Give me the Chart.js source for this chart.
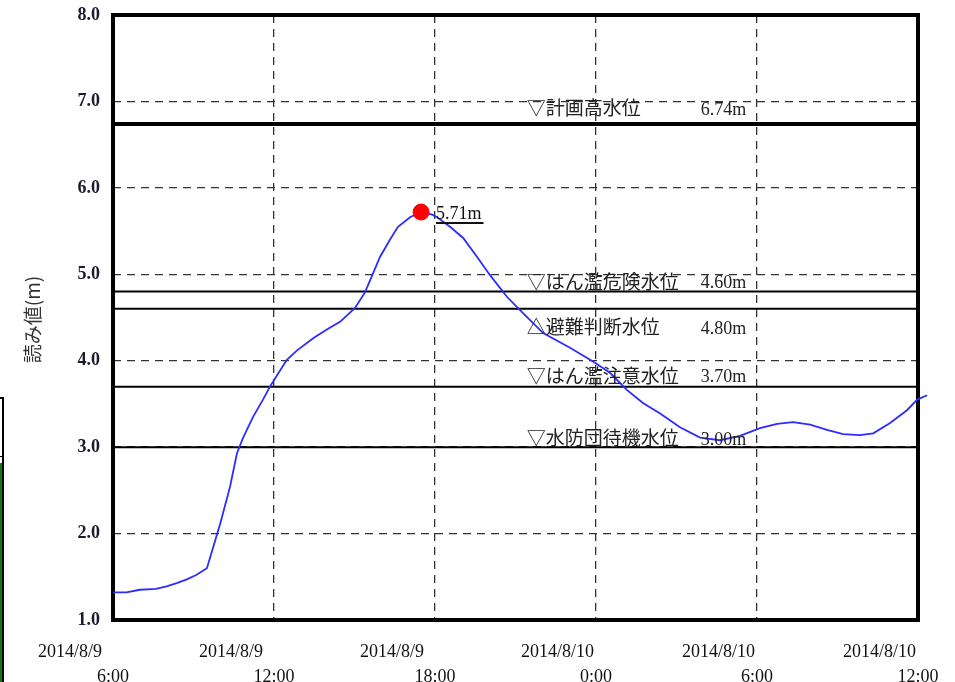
<!DOCTYPE html>
<html lang="ja">
<head>
<meta charset="utf-8">
<title>読み値</title>
<script src="https://cdn.jsdelivr.net/npm/chart.js@4.4.1/dist/chart.umd.min.js"></script>
<style>
  html, body { margin: 0; padding: 0; background: #fff; overflow: hidden; }
  #wrap { position: relative; width: 955px; height: 682px; }
  #c { position: absolute; left: 0; top: 0; }
  /* bit of the neighbouring panel that shows at the left edge */
  #side { position: absolute; left: -2px; top: 397px; width: 4px; height: 285px;
          border-top: 2px solid #000; border-right: 2px solid #000; }
  #side .sep { position: absolute; left: 0; right: 0; top: 57px; height: 1px; background: #000; }
  #side .fill { position: absolute; left: 0; right: 0; top: 64px; bottom: 0; background: #0b7d12; }
</style>
</head>
<body>
<div id="wrap">
  <canvas id="c" width="955" height="682"></canvas>
  <div id="side"><div class="sep"></div><div class="fill"></div></div>
</div>
<script>
// water level readings, hours after 2014/8/9 6:00
const hours = [0, 0.5, 1.0, 1.6, 2.0, 2.4, 2.75, 3.1, 3.5, 3.73, 4.0, 4.36, 4.62, 4.85, 5.22, 5.59, 5.85,
  6.15, 6.48, 6.86, 7.46, 7.97, 8.46, 9.02, 9.39, 9.69, 9.95, 10.32, 10.62, 11.07, 11.48, 11.89,
  12.08, 12.56, 13.05, 13.57, 14.05, 14.68, 15.28, 16.03, 17.03, 17.89, 18.52, 19.16, 19.75, 20.39,
  21.13, 21.88, 22.62, 23.37, 24.11, 24.75, 25.34, 25.98, 26.61, 27.21, 27.84, 28.33, 28.96, 29.6,
  29.97, 30.34];
const levels = [1.32, 1.32, 1.35, 1.36, 1.39, 1.43, 1.47, 1.52, 1.60, 1.84, 2.12, 2.54, 2.93, 3.11, 3.35, 3.55, 3.70,
  3.85, 4.01, 4.12, 4.26, 4.36, 4.45, 4.61, 4.79, 5.01, 5.20, 5.40, 5.55, 5.66, 5.72, 5.69,
  5.66, 5.55, 5.42, 5.20, 4.99, 4.74, 4.55, 4.32, 4.15, 3.99, 3.86, 3.66, 3.51, 3.39,
  3.23, 3.11, 3.08, 3.13, 3.22, 3.27, 3.29, 3.26, 3.20, 3.15, 3.14, 3.16, 3.28, 3.43,
  3.55, 3.60];

// peak marker
const peakHour = 11.48;
const peakValue = 5.72;
const peakText = "5.71m";

// reference water levels (solid lines) and their captions
const refLines = [6.74, 4.80, 4.60, 3.70, 3.00];
const refNames = ["▽計画高水位", "▽はん濫危険水位", "△避難判断水位", "▽はん濫注意水位", "▽水防団待機水位"];
const refValues = ["6.74m", "4.60m", "4.80m", "3.70m", "3.00m"];

// axes
const tickHours = [0, 6, 12, 18, 24, 30];
const tickDates = ["2014/8/9", "2014/8/9", "2014/8/9", "2014/8/10", "2014/8/10", "2014/8/10"];
const tickTimes = ["6:00", "12:00", "18:00", "0:00", "6:00", "12:00"];
const yTicks = ["1.0", "2.0", "3.0", "4.0", "5.0", "6.0", "7.0", "8.0"];
const yTitle = "読み値(m)";

const SERIF = "'Liberation Serif', 'DejaVu Serif', serif";
const JP = "'Noto Sans CJK JP', 'Noto Sans', sans-serif";

// caption placement (pixel offsets from the line each caption belongs to)
const capOffsetY = [-16, -10, 18, -11, -9];
const capNameHour = 15.42;
const capValueHour = 21.9;

const frameAndText = {
  id: "frameAndText",
  beforeDatasetsDraw(chart) {
    const { ctx, chartArea: a } = chart;
    ctx.save();
    ctx.lineWidth = 4;
    ctx.strokeStyle = "#000";
    ctx.strokeRect(a.left, a.top, a.right - a.left, a.bottom - a.top);
    ctx.restore();
  },
  afterDraw(chart) {
    const { ctx, chartArea: a } = chart;
    const x = chart.scales.x, y = chart.scales.y;
    ctx.save();

    // x labels: date line left of the tick, time line centred
    ctx.fillStyle = "#111";
    ctx.font = "18px " + SERIF;
    ctx.textBaseline = "alphabetic";
    tickHours.forEach((h, i) => {
      const px = x.getPixelForValue(h);
      ctx.textAlign = "left";
      ctx.fillText(tickDates[i], px - 75, a.bottom + 37);
      ctx.textAlign = "center";
      ctx.fillText(tickTimes[i], px, a.bottom + 62);
    });

    // y title
    ctx.save();
    ctx.translate(33, (a.top + a.bottom) / 2 + 2);
    ctx.rotate(-Math.PI / 2);
    ctx.textAlign = "center";
    ctx.textBaseline = "middle";
    ctx.font = "19px " + JP;
    ctx.fillStyle = "#333";
    ctx.fillText(yTitle, 0, 0);
    ctx.restore();

    // captions of the reference levels
    ctx.textBaseline = "middle";
    ctx.textAlign = "left";
    ctx.fillStyle = "#222";
    refLines.forEach((v, i) => {
      const py = y.getPixelForValue(v) + capOffsetY[i];
      ctx.font = "19px " + JP;
      ctx.fillText(refNames[i], x.getPixelForValue(capNameHour), py);
      ctx.font = "18px " + SERIF;
      ctx.fillText(refValues[i], x.getPixelForValue(capValueHour), py + 2);
    });

    // peak value with underline
    const px = x.getPixelForValue(peakHour) + 15;
    const py = y.getPixelForValue(peakValue);
    ctx.font = "18px " + SERIF;
    ctx.fillStyle = "#111";
    ctx.textBaseline = "alphabetic";
    const w = ctx.measureText(peakText).width;
    ctx.fillText(peakText, px, py + 7);
    ctx.lineWidth = 2;
    ctx.strokeStyle = "#111";
    ctx.beginPath();
    ctx.moveTo(px, py + 11);
    ctx.lineTo(px + w + 2, py + 11);
    ctx.stroke();

    ctx.restore();
  }
};

const refSets = refLines.map((v, i) => ({
  label: refNames[i],
  data: [{ x: 0, y: v }, { x: 30, y: v }],
  borderColor: "#000",
  borderWidth: i === 0 ? 4 : 2,
  pointRadius: 0,
  order: 3
}));

new Chart(document.getElementById("c").getContext("2d"), {
  type: "line",
  data: {
    datasets: [
      {
        label: "peak",
        data: [{ x: peakHour, y: peakValue }],
        showLine: false,
        pointRadius: 8,
        pointBackgroundColor: "#ff0000",
        pointBorderColor: "#ff0000",
        order: 1
      },
      {
        label: "読み値",
        data: hours.map((h, i) => ({ x: h, y: levels[i] })),
        borderColor: "#2c2cff",
        borderWidth: 1.8,
        pointRadius: 0,
        tension: 0,
        clip: false,
        order: 2
      },
      ...refSets
    ]
  },
  options: {
    responsive: false,
    animation: false,
    layout: { padding: { top: 15, right: 37, left: 0, bottom: 0 } },
    plugins: { legend: { display: false }, tooltip: { enabled: false } },
    scales: {
      x: {
        type: "linear",
        min: 0,
        max: 30,
        afterBuildTicks: (s) => { s.ticks = tickHours.map(v => ({ value: v })); },
        afterFit: (s) => { s.height = 62; s.paddingLeft = 0; s.paddingRight = 0; },
        ticks: { display: false },
        grid: { color: "#333", lineWidth: 1.3, drawTicks: false },
        border: { display: false, dash: [8, 6] }
      },
      y: {
        min: 1,
        max: 8,
        afterFit: (s) => { s.width = 113; s.paddingTop = 0; s.paddingBottom = 0; },
        ticks: {
          stepSize: 1,
          padding: 13,
          color: "#1b1b2e",
          font: { family: SERIF, size: 18, weight: "bold" },
          callback: (v, i) => yTicks[i]
        },
        grid: { color: "#333", lineWidth: 1.3, drawTicks: false },
        border: { display: false, dash: [8, 6] }
      }
    }
  },
  plugins: [frameAndText]
});
</script>
</body>
</html>
